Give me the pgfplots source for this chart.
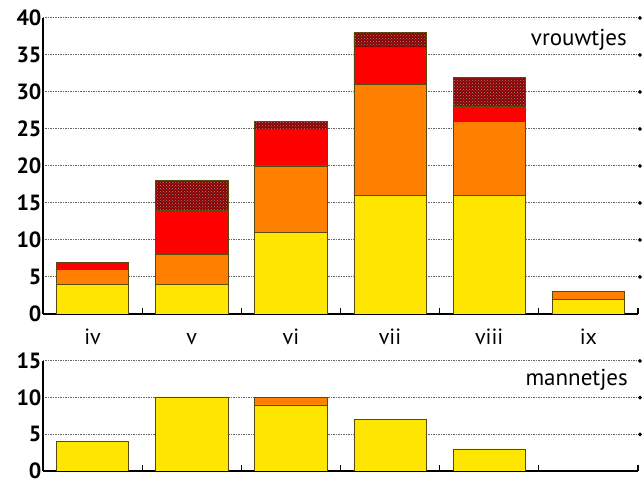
\documentclass[border=0pt]{standalone}
\usepackage{pgfplots}
\pgfplotsset{compat=1.18}
\usetikzlibrary{patterns}
\usepackage{fontspec}
\setmainfont{PT Sans}
\definecolor{cyel}{HTML}{FFE600}
\definecolor{cora}{HTML}{FF8000}
\definecolor{cred}{HTML}{FF0000}
\definecolor{cdrk}{HTML}{8E0000}
\definecolor{cedge}{HTML}{5A4A10}
\begin{document}
\begin{tikzpicture}
\useasboundingbox (-43pt,-170pt) rectangle (600pt,314pt);
\pgfplotsset{
  panel/.style={
    scale only axis, width=595pt,
    xmin=-0.5, xmax=5.5, ymin=0,
    ybar stacked, bar width=0.73,
    axis x line=bottom, axis y line=left,
    axis line style={-, line width=1.3pt, black},
    ymajorgrids,
    grid style={black!60, line width=1pt, dash pattern=on 1.5pt off 1pt},
    xtick={0,...,5},
    major tick length=0pt,
    /pgf/number format/assume math mode=true,
    yticklabel style={font=\bfseries\fontsize{22}{22}\selectfont, xshift=2pt},
    xticklabel style={font=\fontsize{22}{22}\selectfont, anchor=base,
      yshift=-31pt},
    every axis plot/.append style={draw=cedge, line width=0.7pt},
  },
  dots/.style={
    scale only axis, width=595pt, xmin=-0.5, xmax=5.5, ymin=0,
    hide axis, clip=false,
  },
}
\begin{axis}[panel, name=top, height=296pt, ymax=40, ytick={0,5,...,40},
  xticklabels={iv,v,vi,vii,viii,ix}]
\addplot[fill=cyel] coordinates {(0,4) (1,4) (2,11) (3,16) (4,16) (5,2)};
\addplot[fill=cora] coordinates {(0,2) (1,4) (2,9) (3,15) (4,10) (5,1)};
\addplot[fill=cred] coordinates {(0,1) (1,6) (2,5) (3,5) (4,2) (5,0)};
\addplot[fill=cdrk, postaction={pattern=crosshatch dots, pattern color=black!45}]
  coordinates {(0,0) (1,4) (2,1) (3,2) (4,4) (5,0)};
\node[anchor=east, font=\fontsize{23}{23}\selectfont, inner sep=0pt]
  at (axis cs:5.5,37.0) [xshift=-11pt] {vrouwtjes};
\end{axis}
\begin{axis}[dots, height=296pt, ymax=40]
\addplot[only marks, mark=*, mark size=1.7pt, black]
  coordinates {(5.52,5) (5.52,10) (5.52,15) (5.52,20) (5.52,25) (5.52,30) (5.52,35) (5.52,40)};
% small separator ticks on the x axis
\pgfplotsinvokeforeach{0.5,1.5,2.5,3.5,4.5,5.5}{
  \draw[line width=1.2pt] (axis cs:#1,0) -- ([yshift=6pt]axis cs:#1,0);
}
\end{axis}
\begin{axis}[panel, at={(0,-47pt)}, anchor=north west, height=110pt,
  ymax=15, ytick={0,5,10,15}, xticklabels={}]
\addplot[fill=cyel] coordinates {(0,4) (1,10.1) (2,9) (3,7) (4,3) (5,0)};
\addplot[fill=cora] coordinates {(0,0) (1,0) (2,1.1) (3,0) (4,0) (5,0)};
\node[anchor=east, font=\fontsize{23}{23}\selectfont, inner sep=0pt]
  at (axis cs:5.5,12.4) [xshift=-10pt] {mannetjes};
\end{axis}
\begin{axis}[dots, at={(0,-47pt)}, anchor=north west, height=110pt, ymax=15]
\addplot[only marks, mark=*, mark size=1.7pt, black]
  coordinates {(5.52,5) (5.52,10) (5.52,15)};
\pgfplotsinvokeforeach{0.5,1.5,2.5,3.5,4.5,5.5}{
  \draw[line width=1.2pt] (axis cs:#1,0) -- ([yshift=6pt]axis cs:#1,0);
}
\end{axis}
\end{tikzpicture}
\end{document}
